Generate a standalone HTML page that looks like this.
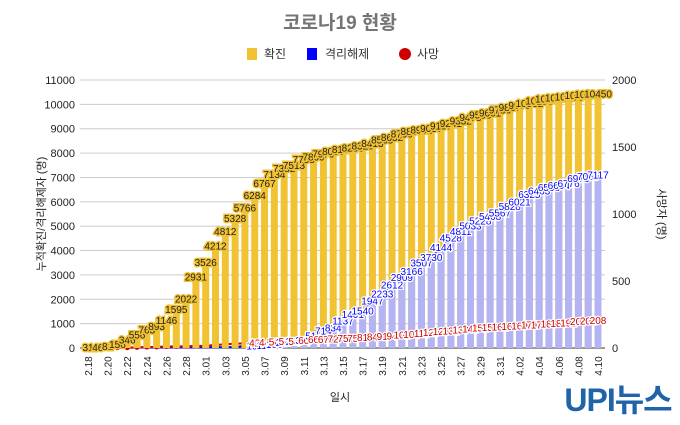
<!DOCTYPE html>
<html><head><meta charset="utf-8"><style>
body{margin:0;background:#fff;width:680px;height:420px;overflow:hidden}
svg text{font-family:"Liberation Sans","Noto Sans CJK KR",sans-serif}
</style></head><body>
<svg id="s" width="680" height="420" xmlns="http://www.w3.org/2000/svg">
<text x="340" y="29" text-anchor="middle" font-size="19" font-weight="bold" fill="#757575">코로나19 현황</text>
<rect x="247" y="48" width="10" height="12" fill="#f1c232"/><text x="264" y="58" font-size="12" fill="#333">확진</text>
<rect x="307" y="48" width="10" height="12" fill="#0000ff"/><text x="325" y="58" font-size="12" fill="#333">격리해제</text>
<circle cx="405" cy="54" r="6" fill="#cc0000"/><text x="417" y="58" font-size="12" fill="#333">사망</text>
<text x="340" y="401" text-anchor="middle" font-size="11" fill="#222">일시</text>
<text transform="translate(45,214) rotate(-90)" text-anchor="middle" font-size="11" fill="#222">누적확진/격리해제자 (명)</text>
<text transform="translate(658,214) rotate(90)" text-anchor="middle" font-size="11" fill="#222">사망자 (명)</text>
<text x="618" y="411" text-anchor="middle" font-size="32" font-weight="bold" fill="#1f64a8" letter-spacing="-1">UPI뉴스</text>
<g id="g"></g>
</svg>
<script>
var C=[31,46,82,156,346,556,763,893,1146,1595,2022,2931,3526,4212,4812,5328,5766,6284,6767,7134,7382,7513,7755,7869,7979,8086,8162,8236,8320,8413,8565,8652,8799,8897,8961,9037,9137,9241,9332,9478,9583,9661,9786,9887,9976,10062,10156,10237,10284,10331,10384,10423,10450];
var R=[12,12,16,16,16,18,18,18,22,22,22,24,27,30,34,41,88,108,118,166,247,288,333,510,714,834,1137,1401,1540,1947,2233,2612,2909,3166,3507,3730,4144,4528,4811,5033,5228,5408,5567,5828,6021,6325,6463,6598,6694,6776,6973,7050,7117];
var D=[0,0,1,2,2,5,7,8,11,12,13,16,17,22,28,32,35,42,44,50,51,54,60,66,67,72,75,75,81,84,91,94,102,104,111,120,126,131,139,144,152,158,162,165,169,174,177,183,186,192,200,204,208];
var dates=[];for(var d=18;d<=29;d++)dates.push("2."+d);for(d=1;d<=31;d++)dates.push("3."+(d<10?"0"+d:d));for(d=1;d<=10;d++)dates.push("4."+(d<10?"0"+d:d));
var y0=348,H=268,x0=88,dx=(598-88)/52,s="";
function yl(v){return y0-v/11000*H}function yr(v){return y0-v/2000*H}
for(var i=0;i<=11;i++){var y=yl(i*1000);s+='<line x1="80" x2="605" y1="'+y+'" y2="'+y+'" stroke="'+(i?'#ccc':'#333')+'"/>';s+='<text x="75" y="'+(y+4)+'" text-anchor="end" font-size="11" fill="#222">'+(i*1000)+'</text>';}
for(i=0;i<=4;i++){s+='<text x="612" y="'+(yr(i*500)+4)+'" font-size="11" fill="#222">'+(i*500)+'</text>';}
var pb="",pr="";
for(i=0;i<53;i++){var x=x0+i*dx;pb+=(i?"L":"M")+x+","+yl(R[i]);pr+=(i?"L":"M")+x+","+yr(D[i]);}
s+='<path d="'+pb+'" fill="none" stroke="#0000ff" stroke-width="2"/><path d="'+pr+'" fill="none" stroke="#cc0000" stroke-width="2"/>';
for(i=0;i<53;i++){x=x0+i*dx;s+='<circle cx="'+x+'" cy="'+yr(D[i])+'" r="2.5" fill="#cc0000"/>';}
for(i=0;i<53;i++){x=x0+i*dx;s+='<rect x="'+(x-3.5)+'" y="'+yl(C[i])+'" width="7" height="'+(y0-yl(C[i]))+'" fill="#f1c232"/>';
 if(i>16)s+='<rect x="'+(x-3.5)+'" y="'+yl(R[i])+'" width="7" height="'+(y0-yl(R[i]))+'" fill="#b4b4f4"/>';}
for(i=0;i<53;i++){x=x0+i*dx;
 s+='<text x="'+x+'" y="'+(yl(C[i])+4)+'" text-anchor="middle" font-size="10" fill="#222" stroke="#f1c232" stroke-width="3" paint-order="stroke">'+C[i]+'</text>';
 if(i>16){s+='<text x="'+x+'" y="'+(yl(R[i])+4)+'" text-anchor="middle" font-size="10" fill="#0000ff" stroke="#fff" stroke-width="2.5" paint-order="stroke">'+R[i]+'</text>';
 s+='<text x="'+x+'" y="'+(yr(D[i])+4)+'" text-anchor="middle" font-size="10" fill="#cc0000" stroke="#fff" stroke-width="2.5" paint-order="stroke">'+D[i]+'</text>';}
 if(i%2==0)s+='<text transform="translate('+(x+4)+',366) rotate(-90)" text-anchor="middle" font-size="10" fill="#222">'+dates[i]+'</text>';}
document.getElementById("g").innerHTML=s;
</script>
</body></html>
